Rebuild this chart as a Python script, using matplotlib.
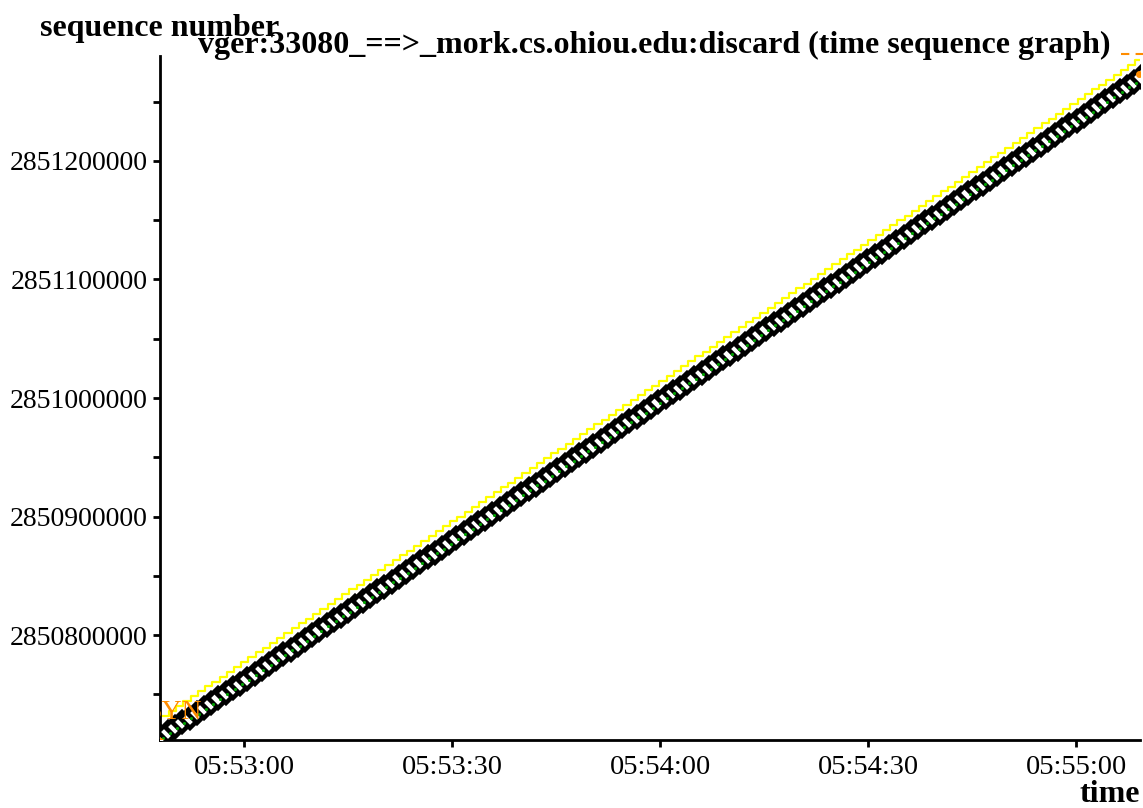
import matplotlib
matplotlib.use("Agg")
import matplotlib.pyplot as plt
from matplotlib.ticker import FixedLocator, FuncFormatter

plt.rcParams['font.family'] = ['Liberation Serif', 'DejaVu Serif']

# connection vger:33080 ==> mork.cs.ohiou.edu:discard
# segment send times, seconds after 05:52:48.0
seg_time = [0.00, 1.04, 2.08, 3.12, 4.16, 5.20, 6.24, 7.28, 8.32, 9.36,
            10.40, 11.44, 12.48, 13.52, 14.56, 15.60, 16.64, 17.68, 18.72, 19.76,
            20.80, 21.84, 22.88, 23.92, 24.96, 26.00, 27.04, 28.08, 29.12, 30.16,
            31.20, 32.24, 33.28, 34.32, 35.36, 36.40, 37.44, 38.48, 39.52, 40.56,
            41.60, 42.64, 43.68, 44.72, 45.76, 46.80, 47.84, 48.88, 49.92, 50.96,
            52.00, 53.04, 54.08, 55.12, 56.16, 57.20, 58.24, 59.28, 60.32, 61.36,
            62.40, 63.44, 64.48, 65.52, 66.56, 67.60, 68.64, 69.68, 70.72, 71.76,
            72.80, 73.84, 74.88, 75.92, 76.96, 78.00, 79.04, 80.08, 81.12, 82.16,
            83.20, 84.24, 85.28, 86.32, 87.36, 88.40, 89.44, 90.48, 91.52, 92.56,
            93.60, 94.64, 95.68, 96.72, 97.76, 98.80, 99.84, 100.88, 101.92, 102.96,
            104.00, 105.04, 106.08, 107.12, 108.16, 109.20, 110.24, 111.28, 112.32, 113.36,
            114.40, 115.44, 116.48, 117.52, 118.56, 119.60, 120.64, 121.68, 122.72, 123.76,
            124.80, 125.84, 126.88, 127.92, 128.96, 130.00, 131.04, 132.08, 133.12, 134.16,
            135.20, 136.24, 137.28, 138.32, 139.36, 140.40, 141.44]

# relative sequence numbers of each segment (bytes after seq_base)
seg_seq = [0, 4096, 8192, 12288, 16384, 20480, 24576, 28672, 32768, 36864,
           40960, 45056, 49152, 53248, 57344, 61440, 65536, 69632, 73728, 77824,
           81920, 86016, 90112, 94208, 98304, 102400, 106496, 110592, 114688, 118784,
           122880, 126976, 131072, 135168, 139264, 143360, 147456, 151552, 155648, 159744,
           163840, 167936, 172032, 176128, 180224, 184320, 188416, 192512, 196608, 200704,
           204800, 208896, 212992, 217088, 221184, 225280, 229376, 233472, 237568, 241664,
           245760, 249856, 253952, 258048, 262144, 266240, 270336, 274432, 278528, 282624,
           286720, 290816, 294912, 299008, 303104, 307200, 311296, 315392, 319488, 323584,
           327680, 331776, 335872, 339968, 344064, 348160, 352256, 356352, 360448, 364544,
           368640, 372736, 376832, 380928, 385024, 389120, 393216, 397312, 401408, 405504,
           409600, 413696, 417792, 421888, 425984, 430080, 434176, 438272, 442368, 446464,
           450560, 454656, 458752, 462848, 466944, 471040, 475136, 479232, 483328, 487424,
           491520, 495616, 499712, 503808, 507904, 512000, 516096, 520192, 524288, 528384,
           532480, 536576, 540672, 544768, 548864, 552960, 557056]

seg_len = 4096
seq_base = 2850711900
t_base = 5 * 3600 + 52 * 60 + 48.0
rwin = 16000

yticks = [2850800000, 2850900000, 2851000000, 2851100000, 2851200000]
xticks_hms = ['05:53:00', '05:53:30', '05:54:00', '05:54:30', '05:55:00']


def hms_to_sec(s):
    h, m, sec = s.split(':')
    return int(h) * 3600 + int(m) * 60 + int(sec)


def sec_to_hms(v, pos=None):
    v = int(round(v))
    return f"{v // 3600:02d}:{(v % 3600) // 60:02d}:{v % 60:02d}"


t = [t_base + x for x in seg_time]
lo = [seq_base + s for s in seg_seq]
hi = [x + seg_len for x in lo]
mid = [x + seg_len / 2 for x in lo]

fig = plt.figure(figsize=(11.43, 8.08), dpi=100)
ax = fig.add_axes([160 / 1143, 68 / 808, 980 / 1143, 684 / 808])

# receive window (yellow step line)
ack_t = [x + 0.15 for x in t]
win_edge = [x + rwin for x in hi]
ax.step(ack_t, win_edge, where='post', color='#ffff00', lw=1.6, zorder=2)

# data segments
ax.vlines(t, [x - 1500 for x in lo], [x + 1500 for x in hi], color='black', lw=3, zorder=3)
ax.plot(t, mid, ls='none', marker='D', ms=10, mfc='white', mec='black', mew=3.2, zorder=4)
ax.plot([x + 0.25 for x in t], [x - 700 for x in mid], ls='none', marker='.', ms=2.5,
        color='#00a000', zorder=5)

# SYN / FIN marks
ax.plot([t[0] - 0.6, t[0] + 0.8], [lo[0] + 2500, lo[0] - 2500], color='#ff8c00', lw=1.5, zorder=6)
ax.text(t[0] - 2.1, lo[0] + 17500, 'SYN', color='#ff8c00', fontsize=20, clip_on=True, zorder=6)
ax.plot([t[-1] - 0.3], [hi[-1]], ls='none', marker='o', ms=4, color='#ff8c00', zorder=6)
ax.plot([t[-1] - 3.0, t[-1] + 2.0], [2851290000] * 2, color='#ff8c00', lw=1.5,
        ls=(0, (4, 3)), clip_on=False, zorder=6)

ax.set_xlim(hms_to_sec('05:52:47') + 0.885, hms_to_sec('05:55:09') + 0.23)
ax.set_ylim(2850711400, 2851288600)

ax.xaxis.set_major_locator(FixedLocator([hms_to_sec(s) for s in xticks_hms]))
ax.xaxis.set_major_formatter(FuncFormatter(sec_to_hms))
ax.yaxis.set_major_locator(FixedLocator(yticks))
ax.yaxis.set_minor_locator(FixedLocator([y + 50000 for y in [2850700000] + yticks]))
ax.yaxis.set_major_formatter(FuncFormatter(lambda v, p: f"{int(round(v))}"))

for side in ['top', 'right']:
    ax.spines[side].set_visible(False)
for side in ['left', 'bottom']:
    ax.spines[side].set_linewidth(2)
ax.tick_params(axis='both', which='both', direction='out', length=5, width=2)
ax.tick_params(axis='x', labelsize=20.5, pad=6)
ax.tick_params(axis='y', labelsize=20, pad=4)

fig.text(40 / 1143, 1 - 36 / 808, 'sequence number', fontsize=23, fontweight='bold',
         va='baseline', ha='left')
fig.text(654 / 1143, 1 - 53 / 808, 'vger:33080_==>_mork.cs.ohiou.edu:discard (time sequence graph)',
         fontsize=23, fontweight='bold', va='baseline', ha='center')
fig.text(1140 / 1143, 1 - 802 / 808, 'time', fontsize=23, fontweight='bold',
         va='baseline', ha='right')

fig.savefig('out.png', dpi=100, facecolor='white')
